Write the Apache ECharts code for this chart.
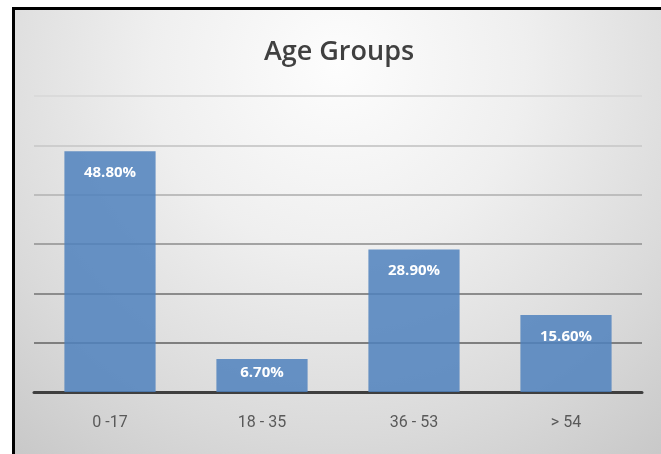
<!DOCTYPE html>
<html>
<head>
<meta charset="utf-8">
<script src="https://cdn.jsdelivr.net/npm/echarts@6/dist/echarts.min.js"></script>
<style>
html,body{margin:0;padding:0;background:#ffffff;}
#chart{width:661px;height:454px;}
</style>
</head>
<body>
<div id="chart"></div>
<script>
const categories = ['0 -17', '18 - 35', '36 - 53', '> 54'];
const values = [48.8, 6.7, 28.9, 15.6];
const titleText = 'Age Groups';
const yTicks = [0, 10, 20, 30, 40, 50, 60];

const chart = echarts.init(document.getElementById('chart'), null, {renderer: 'canvas'});

const labelDistances = [14, 6, 14, 14];

chart.setOption({
  animation: false,
  backgroundColor: 'transparent',
  graphic: [
    {
      type: 'rect', z: -100, silent: true,
      shape: {x: 15, y: 10, width: 646, height: 444},
      style: {
        fill: {
          type: 'radial', x: 0.5, y: 0.12, r: 1.2,
          colorStops: [
            {offset: 0, color: '#fdfdfd'},
            {offset: 0.35, color: '#efefef'},
            {offset: 0.7, color: '#dadada'},
            {offset: 1, color: '#c5c5c5'}
          ]
        }
      }
    },
    {type: 'rect', z: 100, silent: true, shape: {x: 12, y: 7, width: 3, height: 447}, style: {fill: '#000000'}},
    {type: 'rect', z: 100, silent: true, shape: {x: 12, y: 7, width: 649, height: 3}, style: {fill: '#000000'}},
    {
      type: 'text', z: 50, silent: true,
      x: 339, y: 52,
      style: {
        text: titleText,
        fill: '#404040',
        font: '600 27px "Open Sans", "Noto Sans", sans-serif',
        textAlign: 'center',
        textVerticalAlign: 'middle'
      }
    }
  ],
  grid: {left: 34, right: 19, top: 96, bottom: 62, containLabel: false},
  xAxis: {
    type: 'category',
    data: categories,
    axisTick: {show: false},
    axisLine: {show: true, lineStyle: {color: '#3f3f3f', width: 3}},
    axisLabel: {
      color: '#595959',
      fontSize: 16,
      fontFamily: 'Roboto, sans-serif',
      margin: 23
    },
    splitLine: {show: false}
  },
  yAxis: {
    type: 'value',
    min: yTicks[0],
    max: yTicks[yTicks.length - 1],
    interval: 10,
    axisLabel: {show: false},
    axisLine: {show: false},
    axisTick: {show: false},
    splitLine: {
      show: true,
      lineStyle: {
        width: 2,
        color: ['#3f3f3f', '#7f7f7f', '#8c8c8c', '#a3a3a3', '#bdbdbd', '#cdcdcd', '#dadada']
      }
    }
  },
  series: [{
    type: 'bar',
    barWidth: '60%',
    data: values.map((v, i) => ({
      value: v,
      label: {distance: labelDistances[i]}
    })),
    itemStyle: {color: 'rgba(79,129,189,0.85)'},
    label: {
      show: true,
      position: 'insideTop',
      color: '#ffffff',
      fontSize: 15,
      fontWeight: 'bold',
      fontFamily: '"Open Sans", "Noto Sans", sans-serif',
      formatter: p => p.value.toFixed(2) + '%'
    }
  }]
});
</script>
</body>
</html>
